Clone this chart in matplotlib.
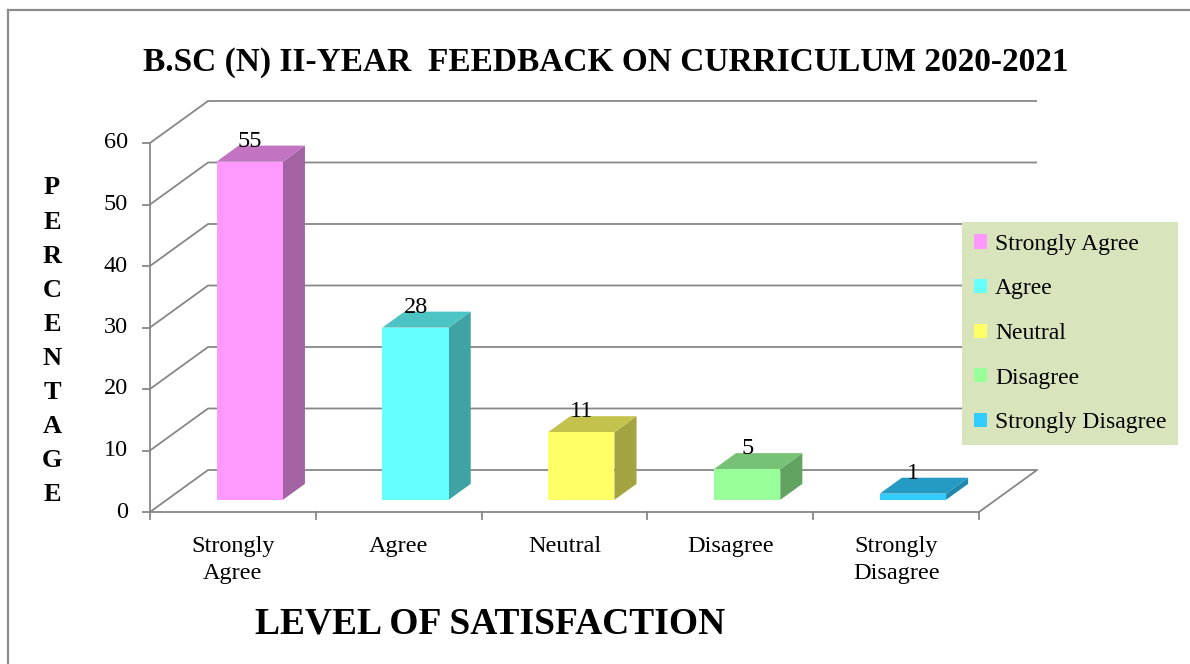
import matplotlib
matplotlib.use('Agg')
import matplotlib.pyplot as plt
from matplotlib.patches import Polygon, Patch
from matplotlib.lines import Line2D

plt.rcParams['font.family'] = ['Liberation Serif', 'DejaVu Serif']

title = "B.SC (N) II-YEAR  FEEDBACK ON CURRICULUM 2020-2021"
categories = ["Strongly\nAgree", "Agree", "Neutral", "Disagree", "Strongly\nDisagree"]
legend_labels = ["Strongly Agree", "Agree", "Neutral", "Disagree", "Strongly Disagree"]
values = [55, 28, 11, 5, 1]
y_ticks = [0, 10, 20, 30, 40, 50, 60]
x_label = "LEVEL OF SATISFACTION"
y_label = "PERCENTAGE"

front_colors = ["#FF99FF", "#66FFFF", "#FFFF66", "#99FF99", "#33CCFF"]
side_colors = ["#A363A3", "#40A3A3", "#A3A340", "#62A362", "#2188AD"]
top_colors = ["#C274C2", "#4DC4C4", "#C2C24D", "#77C277", "#259AC2"]

W, H = 1190, 664
fig = plt.figure(figsize=(W / 100, H / 100), dpi=100)

# geometry (pixels)
X0PX, XUNIT = 150, 165.8
Y0PX, YUNIT = 512, 6.15
axl, axr, axt, axb = 100, 1060, 85, 600
ax = fig.add_axes([axl / W, 1 - axb / H, (axr - axl) / W, (axb - axt) / H])
ax.set_xlim((axl - X0PX) / XUNIT, (axr - X0PX) / XUNIT)
ax.set_ylim((Y0PX - axb) / YUNIT, (Y0PX - axt) / YUNIT)
ax.axis('off')

n = len(values)
DX, DY = 0.35, 6.83
gc = '#878787'
glw = 1.3
fs = 17.5

# back wall / left wall gridlines
for t in y_ticks:
    ax.plot([0, DX, n + DX], [t, t + DY, t + DY], color=gc, lw=glw, zorder=1, solid_capstyle='butt')
# front axis lines
ax.plot([0, 0], [0, max(y_ticks)], color=gc, lw=glw, zorder=1)
ax.plot([0, n], [0, 0], color=gc, lw=glw, zorder=1)
ax.plot([n, n + DX], [0, DY], color=gc, lw=glw, zorder=1)
# tick marks
for t in y_ticks:
    ax.plot([-0.042, 0], [t, t], color=gc, lw=glw, zorder=1)
    ax.text(-0.133, t, str(t), ha='right', va='center', fontsize=fs)
for i in range(n + 1):
    ax.plot([i, i], [0, -1.1], color=gc, lw=glw, zorder=1)

# bars
bw = 0.4
f0, f1 = 0.29, 0.67
ox0, oy0 = f0 * DX, f0 * DY
ox1, oy1 = f1 * DX, f1 * DY
for i, v in enumerate(values):
    xl = i + 0.5 - bw / 2
    xr = xl + bw
    side = [(xr + ox0, oy0), (xr + ox1, oy1), (xr + ox1, v + oy1), (xr + ox0, v + oy0)]
    top = [(xl + ox0, v + oy0), (xr + ox0, v + oy0), (xr + ox1, v + oy1), (xl + ox1, v + oy1)]
    front = [(xl + ox0, oy0), (xr + ox0, oy0), (xr + ox0, v + oy0), (xl + ox0, v + oy0)]
    ax.add_patch(Polygon(side, closed=True, facecolor=side_colors[i], edgecolor='none', zorder=3))
    ax.add_patch(Polygon(top, closed=True, facecolor=top_colors[i], edgecolor='none', zorder=3))
    ax.add_patch(Polygon(front, closed=True, facecolor=front_colors[i], edgecolor='none', zorder=4))
    ax.text(i + 0.5 + ox0, v + oy1 - 0.2, str(v), ha='center', va='baseline', fontsize=fs, zorder=5)
    ax.text(i + 0.5, (Y0PX - 536) / YUNIT, categories[i], ha='center', va='top',
            fontsize=fs, linespacing=1.38)

# title and axis labels
fig.text(606 / W, 1 - 62 / H, title, ha='center', va='center', fontsize=24, weight='bold')
fig.text(490 / W, 1 - 624 / H, x_label, ha='center', va='center', fontsize=27, weight='bold')
for k, ch in enumerate(y_label):
    fig.text(52 / W, 1 - (188 + 34.1 * k) / H, ch, ha='center', va='center', fontsize=19, weight='bold')

# legend
handles = [Patch(facecolor=c, edgecolor='none') for c in front_colors]
leg = fig.legend(handles, legend_labels, loc='upper left', bbox_to_anchor=(962 / W, 1 - 222 / H),
                 frameon=True, facecolor='#D8E4BC', edgecolor='none', fancybox=False, framealpha=1,
                 prop={'family': 'Liberation Serif', 'size': 17}, handlelength=0.55, handleheight=0.55,
                 handletextpad=0.35, labelspacing=1.0, borderpad=0.5, borderaxespad=0)

# outer border
fig.add_artist(Line2D([8 / W, 8 / W], [0, 1 - 10 / H], color='#8c8c8c', lw=1.6, transform=fig.transFigure))
fig.add_artist(Line2D([8 / W, 1], [1 - 10 / H, 1 - 10 / H], color='#8c8c8c', lw=1.6, transform=fig.transFigure))

fig.savefig('out.png', dpi=100)
